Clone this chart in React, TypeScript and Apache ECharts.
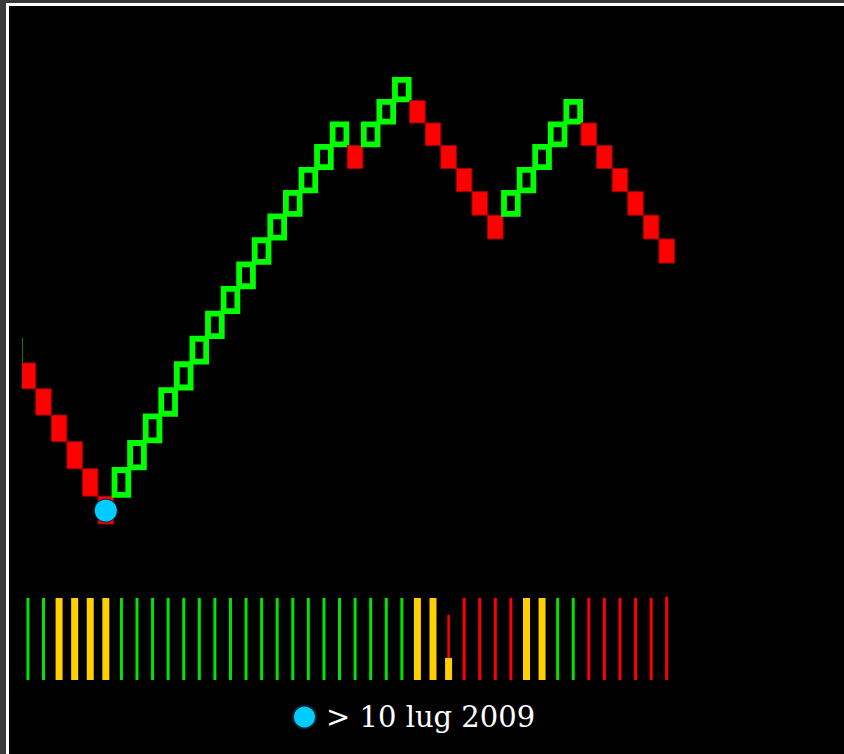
import React, { useEffect, useRef } from "react";
import * as echarts from "echarts";

// Renko bricks (price levels, box size 0.25)
const brickOpen = [
  17.5, 17.25, 17.0, 16.75, 16.5, 16.25,
  16.25, 16.5, 16.75, 17.0, 17.25, 17.5, 17.75, 18.0, 18.25, 18.5, 18.75, 19.0, 19.25, 19.5, 19.75,
  19.75,
  19.75, 20.0, 20.25,
  20.25, 20.0, 19.75, 19.5, 19.25, 19.0,
  19.0, 19.25, 19.5, 19.75, 20.0,
  20.0, 19.75, 19.5, 19.25, 19.0, 18.75,
];
const brickClose = [
  17.25, 17.0, 16.75, 16.5, 16.25, 16.0,
  16.5, 16.75, 17.0, 17.25, 17.5, 17.75, 18.0, 18.25, 18.5, 18.75, 19.0, 19.25, 19.5, 19.75, 20.0,
  19.5,
  20.0, 20.25, 20.5,
  20.0, 19.75, 19.5, 19.25, 19.0, 18.75,
  19.25, 19.5, 19.75, 20.0, 20.25,
  19.75, 19.5, 19.25, 19.0, 18.75, 18.5,
];

// clipped edge of the preceding brick at the left border
const priorLine = [17.5, 17.75];

// marker
const markerLabel = "> 10 lug 2009";
const markerIndex = [5];
const markerPrice = [16.12];

// signal strip under the chart
const stripSignal = [
  "G", "G", "Y", "Y", "Y", "Y",
  "G", "G", "G", "G", "G", "G", "G", "G", "G", "G", "G", "G", "G", "G", "G", "G", "G", "G", "G",
  "Y", "Y", "Y",
  "R", "R", "R", "R",
  "Y", "Y",
  "G", "G",
  "R", "R", "R", "R", "R", "R",
];
const stripTop = [
  1, 1, 1, 1, 1, 1,
  1, 1, 1, 1, 1, 1, 1, 1, 1, 1, 1, 1, 1, 1, 1, 1, 1, 1, 1,
  1, 1, 0.27,
  1, 1, 1, 1,
  1, 1,
  1, 1,
  1, 1, 1, 1, 1, 1.016,
];
const overlayIndex = [27];
const overlayFrom = [0.27];
const overlayTo = [0.795];
const overlaySignal = ["R"];

const signalColor: Record<string, string> = { G: "#00e400", Y: "#ffd000", R: "#ff0000" };
const signalWidth: Record<string, number> = { G: 3, Y: 7, R: 3 };

const X_MIN = -0.38;
const X_MAX = 41.6;

function buildOption() {
  const brickData = brickOpen.map((o, i) => [i, o, brickClose[i]]);
  const stripData = stripTop.map((t, i) => [i, 0, t]);
  const overlayData = overlayIndex.map((idx, k) => [idx, overlayFrom[k], overlayTo[k]]);
  const markerData = markerIndex.map((idx, k) => [idx, markerPrice[k]]);

  return {
    animation: false,
    backgroundColor: "#000000",
    grid: [
      { left: 13, top: 29.3, width: 654.05, height: 604.7 },
      { left: 13, top: 592, width: 654.05, height: 82 },
    ],
    xAxis: [
      { type: "value", gridIndex: 0, min: X_MIN, max: X_MAX, show: false },
      { type: "value", gridIndex: 1, min: X_MIN, max: X_MAX, show: false },
    ],
    yAxis: [
      { type: "log", gridIndex: 0, min: 15, max: 21, show: false },
      { type: "value", gridIndex: 1, min: 0, max: 1, show: false },
    ],
    legend: {
      data: [{ name: markerLabel, icon: "circle" }],
      left: 283,
      top: 696,
      padding: 0,
      itemWidth: 23,
      itemHeight: 23,
      selectedMode: false,
      textStyle: {
        color: "#ffffff",
        fontSize: 29,
        lineHeight: 30,
        fontFamily: "DejaVu Serif",
        padding: [0, 0, 0, 5],
      },
    },
    series: [
      {
        type: "custom",
        name: "prior",
        xAxisIndex: 0,
        yAxisIndex: 0,
        data: [[X_MIN, priorLine[0], priorLine[1]]],
        renderItem: (params: any, api: any) => {
          const a = api.coord([api.value(0), api.value(1)]);
          const b = api.coord([api.value(0), api.value(2)]);
          return {
            type: "line",
            shape: { x1: a[0] + 0.5, y1: a[1], x2: b[0] + 0.5, y2: b[1] },
            style: { stroke: "#137a13", lineWidth: 1 },
          };
        },
      },
      {
        type: "custom",
        name: "bricks",
        xAxisIndex: 0,
        yAxisIndex: 0,
        clip: true,
        data: brickData,
        renderItem: (params: any, api: any) => {
          const i = api.value(0);
          const o = api.value(1);
          const c = api.value(2);
          const p1 = api.coord([i, o]);
          const p2 = api.coord([i, c]);
          const left = api.coord([i - 0.5, o])[0];
          const right = api.coord([i + 0.5, o])[0];
          const w = right - left;
          const yTop = Math.min(p1[1], p2[1]);
          const h = Math.abs(p2[1] - p1[1]);
          if (c > o) {
            return {
              type: "rect",
              shape: { x: left + 0.9, y: yTop + 1.3, width: w - 1.8, height: h - 2.6 },
              style: { fill: "none", stroke: "#00ff00", lineWidth: 5.8 },
            };
          }
          return {
            type: "rect",
            shape: { x: left, y: yTop, width: w, height: h },
            style: { fill: "#ff0000", stroke: "#a00000", lineWidth: 1 },
          };
        },
      },
      {
        type: "scatter",
        name: markerLabel,
        xAxisIndex: 0,
        yAxisIndex: 0,
        data: markerData,
        symbol: "circle",
        symbolSize: 23,
        z: 5,
        itemStyle: { color: "#00ccff", borderColor: "#002233", borderWidth: 1, opacity: 1 },
      },
      {
        type: "custom",
        name: "strip",
        xAxisIndex: 1,
        yAxisIndex: 1,
        data: stripData,
        renderItem: (params: any, api: any) => {
          const sig = stripSignal[params.dataIndex];
          const a = api.coord([api.value(0), api.value(1)]);
          const b = api.coord([api.value(0), api.value(2)]);
          const bw = signalWidth[sig];
          return {
            type: "rect",
            shape: { x: a[0] - bw / 2, y: b[1], width: bw, height: a[1] - b[1] },
            style: { fill: signalColor[sig] },
          };
        },
      },
      {
        type: "custom",
        name: "stripOverlay",
        xAxisIndex: 1,
        yAxisIndex: 1,
        data: overlayData,
        renderItem: (params: any, api: any) => {
          const sig = overlaySignal[params.dataIndex];
          const a = api.coord([api.value(0), api.value(1)]);
          const b = api.coord([api.value(0), api.value(2)]);
          const bw = 2.5;
          return {
            type: "rect",
            shape: { x: a[0] - bw / 2, y: b[1], width: bw, height: a[1] - b[1] },
            style: { fill: signalColor[sig] },
          };
        },
      },
    ],
  };
}

export default function App() {
  const ref = useRef<HTMLDivElement>(null);
  useEffect(() => {
    document.documentElement.style.overflow = "hidden";
    document.body.style.margin = "0";
    document.body.style.background = "#3a3a3a";
    const chart = echarts.init(ref.current as HTMLDivElement, null, { renderer: "svg" });
    chart.setOption(buildOption() as any);
    return () => chart.dispose();
  }, []);
  return (
    <div
      style={{
        position: "absolute",
        left: 6,
        top: 3,
        borderTop: "3px solid #ffffff",
        borderLeft: "3px solid #ffffff",
        background: "#000000",
      }}
    >
      <div ref={ref} style={{ width: 835, height: 748 }} />
    </div>
  );
}
